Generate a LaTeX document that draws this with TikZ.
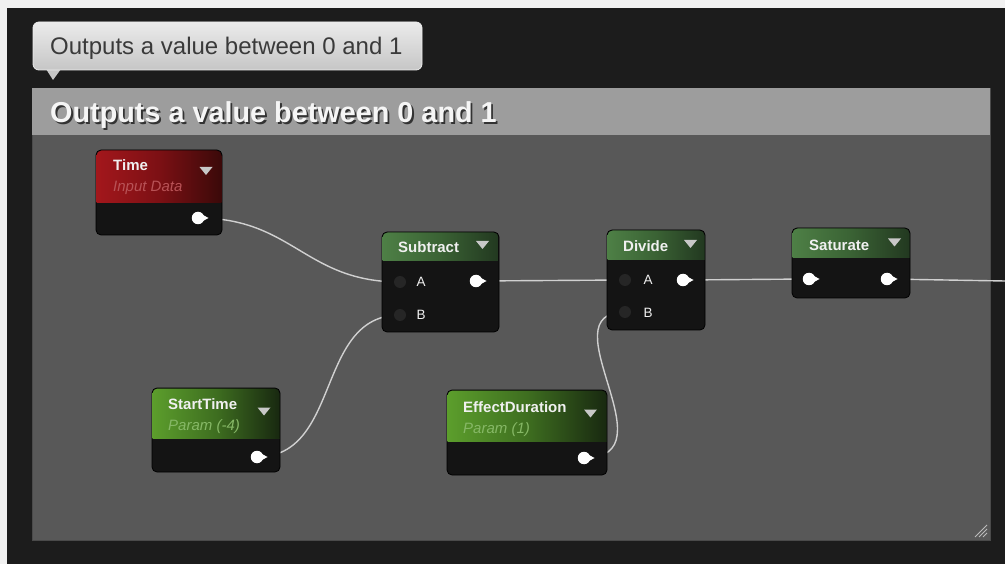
\documentclass[tikz,border=0pt]{standalone}
\usepackage{fontspec}
\setmainfont{Liberation Sans}
\definecolor{page}{HTML}{F1F1F1}
\definecolor{canvas}{HTML}{1C1C1C}
\definecolor{panel}{HTML}{585858}
\definecolor{paneledge}{HTML}{4A4A4A}
\definecolor{band}{HTML}{9D9D9D}
\definecolor{wirecol}{HTML}{D0D0D0}
\definecolor{nodebg}{HTML}{141414}
\definecolor{pindark}{HTML}{262626}
\definecolor{titlecol}{HTML}{F0F0F0}
\definecolor{tricol}{HTML}{C8C8C8}
\definecolor{redsub}{HTML}{B85256}
\definecolor{greensub}{HTML}{86B866}
\definecolor{bubtext}{HTML}{3A3A3A}
\definecolor{bubtop}{HTML}{EBEBEB}
\definecolor{bubbot}{HTML}{C6C6C6}
\definecolor{redL}{HTML}{A3171C}
\definecolor{redM}{HTML}{7C1014}
\definecolor{redR}{HTML}{3A0909}
\definecolor{opL}{HTML}{4E8046}
\definecolor{opM}{HTML}{3A6234}
\definecolor{opR}{HTML}{223820}
\definecolor{parL}{HTML}{5C9E2C}
\definecolor{parM}{HTML}{3E6E20}
\definecolor{parR}{HTML}{182810}

\pgfdeclarelayer{back}
\pgfdeclarelayer{wires}
\pgfsetlayers{back,wires,main}

\tikzset{
  wire/.style={draw=wirecol, line width=1.4pt},
  nodebody/.style={rectangle, draw=black, line width=0.8pt, fill=nodebg,
    rounded corners=5pt, inner sep=0pt},
  outpin/.style={circle, fill=white, inner sep=0pt, minimum size=12.5pt},
  inpin/.style={circle, fill=pindark, inner sep=0pt, minimum size=12pt},
  nodetitle/.style={anchor=base west, inner sep=0pt, text=titlecol,
    font=\fontsize{15}{15}\selectfont\bfseries},
  nodesub/.style={anchor=base west, inner sep=0pt,
    font=\fontsize{15}{15}\selectfont\itshape},
  pinlabel/.style={anchor=base west, inner sep=0pt, text=titlecol,
    font=\fontsize{13.5}{13.5}\selectfont},
  redhead/.style={left color=redL, right color=redR, middle color=redM},
  ophead/.style={left color=opL, right color=opR, middle color=opM},
  paramhead/.style={left color=parL, right color=parR, middle color=parM},
}

% material node: name, x1, y1, x2, y2, header bottom, header style
\newcommand\uenode[7]{%
  \node[nodebody, minimum width={#4-#2}, minimum height={#5-#3}]
    (#1) at ({(#2+#4)/2},{(#3+#5)/2}) {};
  \begin{scope}
    \clip[rounded corners=5pt] (#2+0.5,#3+0.5) rectangle (#4-0.5,#5-0.5);
    \fill[#7] (#2,#3) rectangle (#4,#6);
  \end{scope}
}
% drop-down marker in a node header
\newcommand\dropmark[2]{%
  \fill[tricol] (#1-6.5,#2-4) -- (#1+6.5,#2-4) -- (#1,#2+4) -- cycle;}
% white output pin with its small arrow
\newcommand\outpinat[3]{%
  \node[outpin] (#1) at (#2,#3) {};
  \fill[white] (#2+5,#3-3) -- (#2+10.5,#3) -- (#2+5,#3+3) -- cycle;}

\begin{document}
\begin{tikzpicture}[x=1pt, y=-1pt]
\useasboundingbox (0,0) rectangle (1005,564);

\begin{pgfonlayer}{back}
\fill[page] (0,0) rectangle (1005,564);
\fill[canvas] (7,8) rectangle (1005,564);

% comment box
\node[rectangle, fill=panel, draw=paneledge, line width=0.6pt,
  minimum width=958, minimum height=452, inner sep=0pt]
  (comment) at (511,314) {};
\fill[band] (32.3,88.3) rectangle (989.7,135);
\node[anchor=base west, inner sep=0pt, text=black!80,
  font=\fontsize{28.8}{28.8}\selectfont\bfseries] at (51.8,124.8)
  {Outputs a value between 0 and 1};
\node[anchor=base west, inner sep=0pt, text=white!96!black,
  font=\fontsize{28.8}{28.8}\selectfont\bfseries] (commenttitle) at (50,123)
  {Outputs a value between 0 and 1};
% resize grip
\foreach \i in {0,1,2}
  \draw[white!60!panel, line width=1pt] (987-4-4*\i,537) -- (987,537-4-4*\i);

% comment bubble
\fill[bubbot] (46,69) -- (61,69) -- (53,80) -- cycle;
\node[rectangle, rounded corners=6pt, draw=white!93!black, line width=0.8pt,
  top color=bubtop, bottom color=bubbot,
  minimum width=389, minimum height=48, inner sep=0pt]
  (bubble) at (227.5,46) {};
\node[anchor=base west, inner sep=0pt, text=bubtext,
  font=\fontsize{24}{24}\selectfont] (bubbletext) at (50,54.5)
  {Outputs a value between 0 and 1};
\end{pgfonlayer}

% node bodies and headers
\uenode{time}{96}{150}{222}{235}{203}{redhead}
\uenode{subtract}{382}{232}{499}{332}{261}{ophead}
\uenode{divide}{607}{230}{705}{330}{260}{ophead}
\uenode{saturate}{792}{228}{910}{298}{258}{ophead}
\uenode{starttime}{152}{388}{280}{472}{438}{paramhead}
\uenode{effdur}{447}{390}{607}{475}{441}{paramhead}

% pins
\outpinat{time-out}{198}{218}
\node[inpin] (sub-a) at (400,282) {};
\node[inpin] (sub-b) at (400,315) {};
\outpinat{sub-out}{476}{281}
\node[inpin] (div-a) at (625,280) {};
\node[inpin] (div-b) at (625,312) {};
\outpinat{div-out}{683}{280}
\outpinat{sat-in}{809}{279}
\outpinat{sat-out}{887}{279}
\outpinat{start-out}{257}{457}
\outpinat{dur-out}{584}{458}
\coordinate (edge) at (1005,281);

% wires, kept behind the nodes
\begin{pgfonlayer}{wires}
\draw[wire] (time-out.center) .. controls +(95,0) and +(-95,0) .. (sub-a.center);
\draw[wire] (start-out.center) .. controls +(85,0) and +(-85,0) .. (sub-b.center);
\draw[wire] (sub-out.center) -- (div-a.center);
\draw[wire] (dur-out.center) .. controls +(90,0) and +(-80,0) .. (div-b.center);
\draw[wire] (div-out.center) -- (sat-in.center);
\draw[wire] (sat-out.center) -- (edge);
\end{pgfonlayer}

% titles
\node[nodetitle] (time-title) at (113,171) {Time};
\node[nodesub, text=redsub] (time-sub) at (113,192) {Input Data};
\dropmark{206}{171}
\node[nodetitle] (sub-title) at (398,253) {Subtract};
\dropmark{482.5}{245}
\node[pinlabel] (sub-la) at (416.5,286.5) {A};
\node[pinlabel] (sub-lb) at (416.5,319.5) {B};
\node[nodetitle] (div-title) at (623,252) {Divide};
\dropmark{690.5}{244}
\node[pinlabel] (div-la) at (643.5,285) {A};
\node[pinlabel] (div-lb) at (643.5,317.5) {B};
\node[nodetitle] (sat-title) at (809,251) {Saturate};
\dropmark{894.5}{242.5}
\node[nodetitle] (start-title) at (168,409) {StartTime};
\node[nodesub, text=greensub] (start-sub) at (168,430) {Param (-4)};
\dropmark{264}{411.5}
\node[nodetitle] (dur-title) at (463,412) {EffectDuration};
\node[nodesub, text=greensub] (dur-sub) at (463,433) {Param (1)};
\dropmark{590.5}{413.5}
\end{tikzpicture}
\end{document}
